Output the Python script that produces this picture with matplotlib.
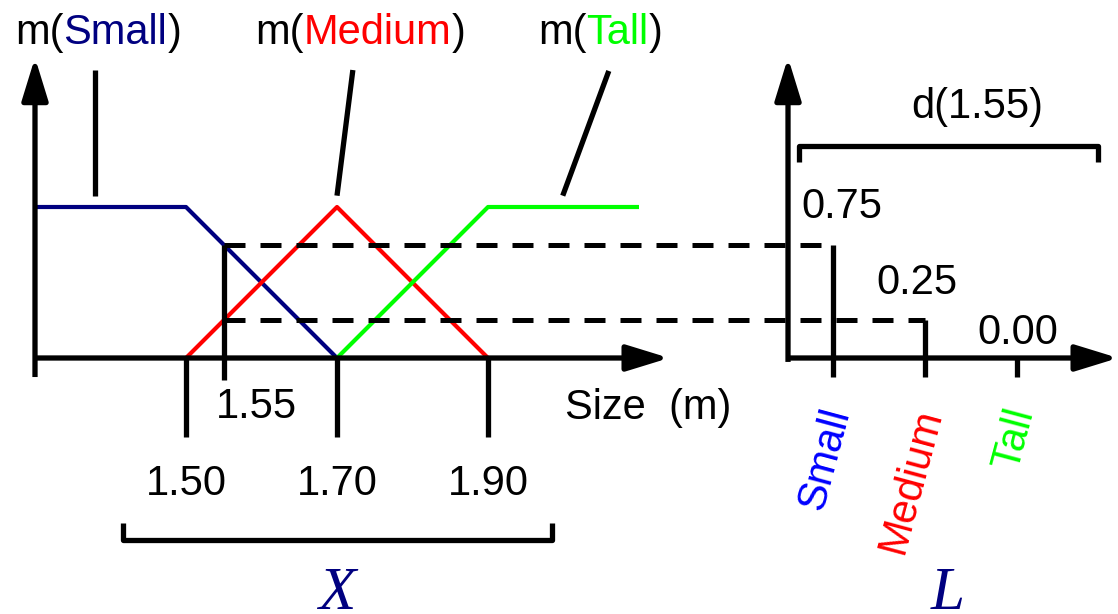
import matplotlib.pyplot as plt

# membership functions over Size (m)
SIZE_SMALL = [1.30, 1.50, 1.70]
MU_SMALL = [1.0, 1.0, 0.0]
SIZE_MEDIUM = [1.50, 1.70, 1.90]
MU_MEDIUM = [0.0, 1.0, 0.0]
SIZE_TALL = [1.70, 1.90, 2.10]
MU_TALL = [0.0, 1.0, 1.0]

TERMS = ["Small", "Medium", "Tall"]
X_INPUT = 1.55
DEGREES = [0.75, 0.25, 0.00]
X_TICKS = [1.50, 1.70, 1.90]
X_TICK_LABELS = ["1.50", "1.70", "1.90"]

NAVY, RED, GREEN, BLUE = "#000080", "#ff0000", "#00ff00", "#0000ff"
LINE_COLORS = [NAVY, RED, GREEN]
TERM_COLORS = [BLUE, RED, GREEN]

W, H = 1118, 614
FS = 30
LW_AX = 3.8
LW_MF = 3.0

plt.rcParams["font.family"] = ["Liberation Sans", "DejaVu Sans"]

fig = plt.figure(figsize=(W / 100, H / 100), dpi=100)

# left panel: x in metres, y in membership
ax = fig.add_axes([0, 0, 1, 1])
ax.set_xlim(1.30 - 35 / 755, 1.30 + (W - 35) / 755)
ax.set_ylim(-(H - 358) / 151, 358 / 151)
ax.axis("off")

# right panel: x in term index, same membership scale
axr = fig.add_axes([0, 0, 1, 1])
axr.set_xlim(-833 / 92, (W - 833) / 92)
axr.set_ylim(-(H - 358) / 151, 358 / 151)
axr.axis("off")
axr.patch.set_visible(False)


def arrow(a, start, end):
    a.annotate("", xy=end, xytext=start, annotation_clip=False,
               arrowprops=dict(arrowstyle="-|>,head_length=1.3,head_width=0.4",
                               mutation_scale=20, lw=LW_AX, color="black",
                               shrinkA=0, shrinkB=0, capstyle="butt"))


def seg(a, xs, ys, **kw):
    kw.setdefault("color", "black")
    kw.setdefault("lw", LW_AX)
    a.plot(xs, ys, solid_capstyle="butt", clip_on=False, **kw)


# --- left panel ---
x0 = SIZE_SMALL[0]
arrow(ax, (x0, -0.126), (x0, 1.99))
arrow(ax, (x0, 0), (2.14, 0))
for xt, lab in zip(X_TICKS, X_TICK_LABELS):
    seg(ax, [xt, xt], [0, -0.523])
    ax.text(xt, -0.834, lab, fontsize=FS, ha="center", va="center")

for xs, ys, c in zip([SIZE_SMALL, SIZE_MEDIUM, SIZE_TALL],
                     [MU_SMALL, MU_MEDIUM, MU_TALL], LINE_COLORS):
    ax.plot(xs, ys, color=c, lw=LW_MF, solid_capstyle="butt")

# input value marker and projections onto the right panel
seg(ax, [X_INPUT, X_INPUT], [-0.146, max(DEGREES)])
ax.text(1.593, -0.325, f"{X_INPUT:.2f}", fontsize=FS, ha="center", va="center")
for i, d in enumerate(DEGREES):
    if d <= 0:
        continue
    xend = ax.transData.inverted().transform(axr.transData.transform((i, d)))[0]
    ax.plot([X_INPUT, xend], [d, d], color="black", lw=3.6,
            linestyle=(0, (4.2, 3.0)), clip_on=False)

ax.text(2.112, -0.331, "Size  (m)", fontsize=FS, ha="center", va="center")

# m(...) labels with pointers
LABEL_LEFT = [1.2735, 1.5914, 1.9662]
POINTER_TOP = [(1.3795, 1.907), (1.721, 1.907), (2.060, 1.901)]
POINTER_BOT = [(1.3795, 1.075), (1.700, 1.075), (1.999, 1.075)]
for term, c, xl, pt, pb in zip(TERMS, LINE_COLORS, LABEL_LEFT, POINTER_TOP, POINTER_BOT):
    t = ax.text(xl, 2.08, "m(", fontsize=FS, color="black")
    t = ax.annotate(term, xy=(1, 0), xycoords=t, va="bottom", fontsize=FS, color=c)
    ax.annotate(")", xy=(1, 0), xycoords=t, va="bottom", fontsize=FS, color="black")
    seg(ax, [pt[0], pb[0]], [pt[1], pb[1]])

# X bracket
seg(ax, [1.4166, 1.4166, 1.985, 1.985], [-1.093, -1.205, -1.205, -1.093])
ax.text(1.70, -1.662, "X", fontsize=44, family="Liberation Serif", style="italic",
        color=NAVY, ha="center", va="baseline")

# --- right panel ---
xr0 = -0.489
arrow(axr, (xr0, -0.026), (xr0, 1.99))
arrow(axr, (xr0, 0), (3.10, 0))

VALUE_OFFSETS = [(0.10, 0.25), (-0.09, 0.247), (0.01, 0.166)]
for i, (term, d, c, off) in enumerate(zip(TERMS, DEGREES, TERM_COLORS, VALUE_OFFSETS)):
    seg(axr, [i, i], [-0.126, d])
    axr.text(i + off[0], d + off[1], f"{d:.2f}", fontsize=FS, ha="center", va="center")
    axr.text(i + 0.06, -0.34, term, fontsize=FS, color=c, rotation=75,
             rotation_mode="anchor", ha="right", va="center")

seg(axr, [-0.37, -0.37, 2.88, 2.88], [1.298, 1.404, 1.404, 1.298])
axr.text(1.565, 1.662, f"d({X_INPUT:.2f})", fontsize=FS, ha="center", va="center")
axr.text(1.245, -1.662, "L", fontsize=44, family="Liberation Serif", style="italic",
         color=NAVY, ha="center", va="baseline")

fig.savefig("out.png", dpi=100)
